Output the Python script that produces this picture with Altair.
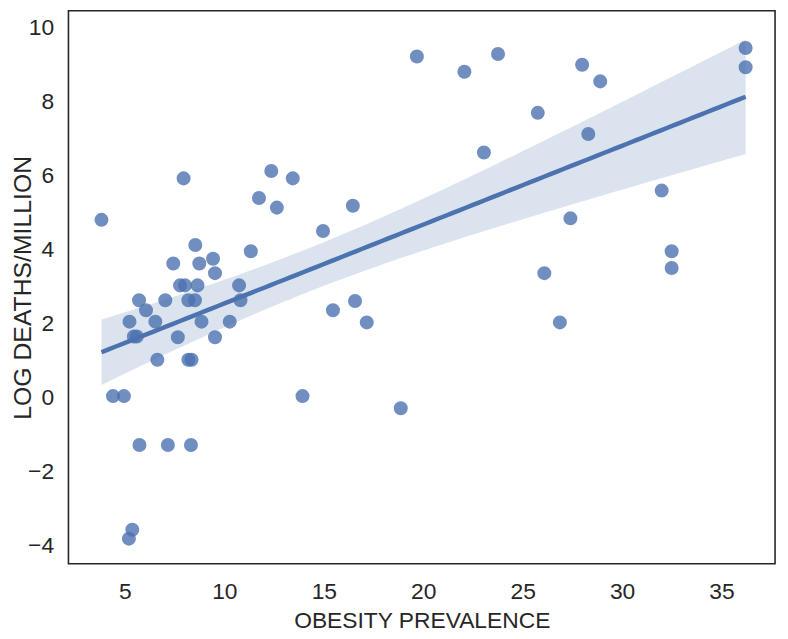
import altair as alt
import numpy as np
import pandas as pd

# Obesity prevalence (x) and log deaths per million (y)
obesity = [3.82, 7.95, 12.36, 13.44, 11.74, 12.64, 14.96, 8.54, 7.43, 8.74,
           9.43, 9.53, 11.33, 7.77, 8.02, 8.65, 10.74, 5.71, 6.06, 7.03,
           8.19, 8.52, 10.81, 5.23, 6.53, 8.85, 10.27, 5.45, 5.60, 7.66,
           9.53, 6.63, 8.19, 8.35, 4.40, 4.95, 13.93, 5.73, 7.16, 8.32,
           5.37, 5.20, 19.68, 22.07, 23.76, 25.76, 23.05, 16.46, 26.09, 16.57,
           15.46, 17.16, 18.87, 27.99, 28.90, 28.30, 36.21, 36.21, 31.99, 27.40,
           32.49, 32.49, 26.87]
log_deaths = [4.81, 5.93, 6.13, 5.93, 5.40, 5.14, 4.51, 4.13, 3.63, 3.63,
              3.76, 3.37, 3.96, 3.04, 3.04, 3.04, 3.04, 2.64, 2.37, 2.64,
              2.64, 2.64, 2.64, 2.06, 2.06, 2.06, 2.06, 1.66, 1.66, 1.64,
              1.64, 1.03, 1.03, 1.03, 0.05, 0.05, 0.05, -1.27, -1.27, -1.27,
              -3.56, -3.80, 9.22, 8.81, 9.29, 7.70, 6.63, 5.19, 3.37, 2.62,
              2.37, 2.04, -0.28, 9.00, 8.55, 7.13, 9.45, 8.93, 5.60, 4.85,
              3.96, 3.51, 2.04]

x_ticks = [5, 10, 15, 20, 25, 30, 35]
y_ticks = [-4, -2, 0, 2, 4, 6, 8, 10]

COLOR = "#4C72B0"
TEXT = "#262626"
FONT = "Liberation Sans Narrow, Liberation Sans, Arial, sans-serif"

pts = pd.DataFrame({"x": obesity, "y": log_deaths})

# Linear fit with 95% confidence band for the mean
xa = np.array(obesity)
ya = np.array(log_deaths)
slope, intercept = np.polyfit(xa, ya, 1)
n = len(xa)
resid = ya - (slope * xa + intercept)
s = np.sqrt((resid ** 2).sum() / (n - 2))
sxx = ((xa - xa.mean()) ** 2).sum()
grid = np.linspace(xa.min(), xa.max(), 100)
se = s * np.sqrt(1.0 / n + (grid - xa.mean()) ** 2 / sxx)
yfit = slope * grid + intercept
fit = pd.DataFrame({"x": grid, "y": yfit, "lo": yfit - 2.0 * se, "hi": yfit + 2.0 * se})

xscale = alt.Scale(domain=[2.16, 37.69], nice=False, zero=False)
yscale = alt.Scale(domain=[-4.48, 10.455], nice=False, zero=False)

xaxis = alt.Axis(values=x_ticks, grid=False, ticks=False, domain=False,
                 labelFont=FONT, labelFontSize=23, labelColor=TEXT, labelPadding=17,
                 title="OBESITY PREVALENCE", titleFont=FONT, titleFontSize=23,
                 titleFontWeight="normal", titleColor=TEXT, titlePadding=6)
yaxis = alt.Axis(values=y_ticks, grid=False, ticks=False, domain=False,
                 labelFont=FONT, labelFontSize=23, labelColor=TEXT, labelPadding=15,
                 title="LOG DEATHS/MILLION", titleFont=FONT, titleFontSize=25,
                 titleFontWeight="normal", titleColor=TEXT,
                 titleAngle=270, titleX=-46, titleY=279,
                 titleAlign="center", titleBaseline="middle")

points = alt.Chart(pts).mark_circle(size=200, opacity=0.8, color=COLOR).encode(
    x=alt.X("x:Q", scale=xscale, axis=xaxis),
    y=alt.Y("y:Q", scale=yscale, axis=yaxis),
)

band = alt.Chart(fit).mark_area(color=COLOR, opacity=0.2).encode(
    x=alt.X("x:Q", scale=xscale),
    y=alt.Y("lo:Q", scale=yscale),
    y2="hi:Q",
)

line = alt.Chart(fit).mark_line(color=COLOR, strokeWidth=4.5).encode(
    x=alt.X("x:Q", scale=xscale),
    y=alt.Y("y:Q", scale=yscale),
)

chart = alt.layer(points, band, line).properties(
    width=713,
    height=558,
    autosize=alt.AutoSizeParams(type="none"),
    padding={"left": 61, "top": 0, "right": 5, "bottom": 72},
    background="white",
).configure_view(stroke=TEXT, strokeWidth=1.6)

chart.save("out.html", embed_options={"renderer": "svg", "actions": False})
